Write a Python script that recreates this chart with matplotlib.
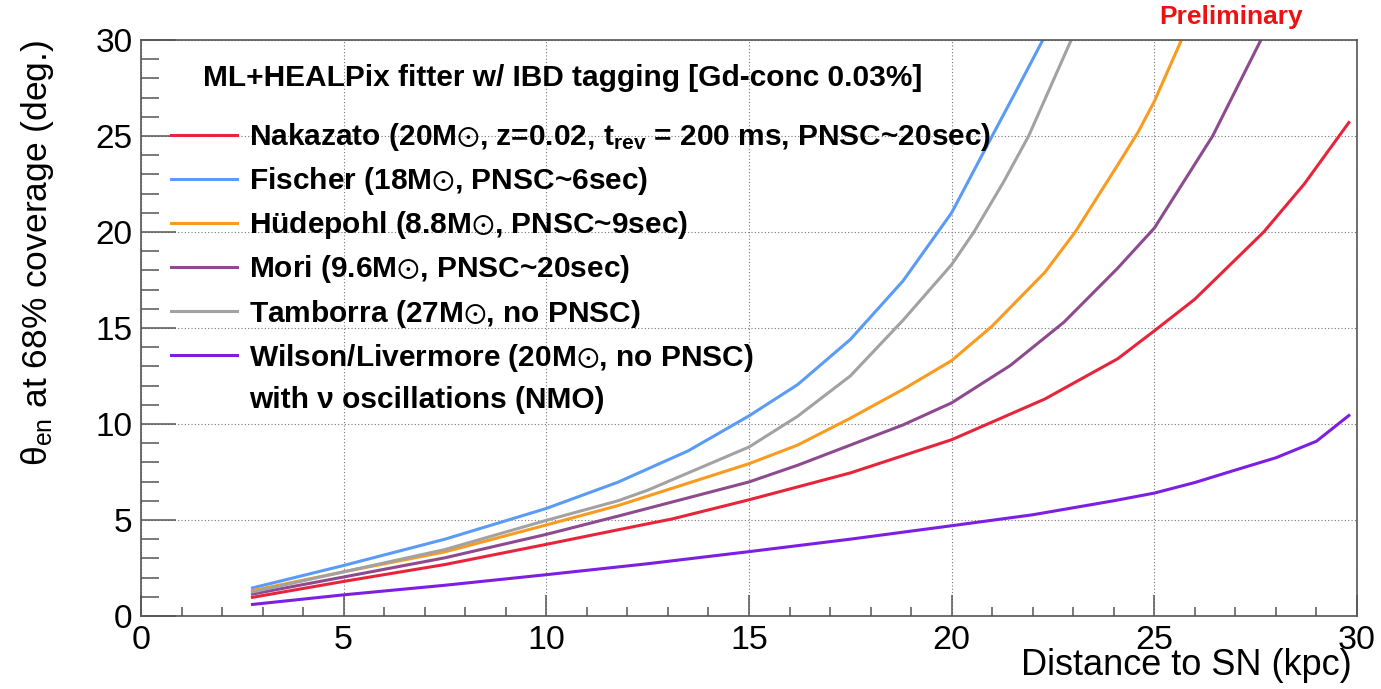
import matplotlib.pyplot as plt
from matplotlib.lines import Line2D

plt.rcParams['font.family'] = ['Liberation Sans', 'DejaVu Sans']
plt.rcParams['mathtext.default'] = 'regular'

# distance to SN (kpc) vs theta_en at 68% coverage (deg.)
nakazato_x = [2.75, 5, 7.5, 10, 12.5, 13.1, 15, 17.5, 20, 22.3, 24.1, 25, 26.0, 27.7, 28.7, 29.8]
nakazato_y = [0.97, 1.8, 2.68, 3.73, 4.8, 5.05, 6.05, 7.45, 9.18, 11.3, 13.4, 14.85, 16.5, 20.0, 22.5, 25.7]

fischer_x = [2.75, 5, 7.5, 10, 11.77, 13.5, 15, 16.2, 17.5, 18.8, 20, 21.0, 21.63, 22.25]
fischer_y = [1.46, 2.63, 4.0, 5.6, 6.97, 8.6, 10.42, 12.05, 14.4, 17.45, 21.0, 25.0, 27.5, 30.0]

hudepohl_x = [2.75, 5, 7.5, 10, 11.77, 15, 16.2, 17.5, 18.8, 20, 21.0, 22.3, 23.05, 24.1, 24.6, 25.0, 25.67]
hudepohl_y = [1.32, 2.3, 3.34, 4.74, 5.75, 7.93, 8.9, 10.3, 11.8, 13.3, 15.1, 17.9, 20.0, 23.5, 25.2, 26.8, 30.0]

mori_x = [2.75, 5, 7.5, 10, 11.77, 15, 16.2, 17.5, 18.8, 20, 21.45, 22.77, 24.09, 25, 26.44, 27.63]
mori_y = [1.14, 2.03, 3.03, 4.25, 5.2, 6.98, 7.85, 8.9, 9.95, 11.1, 13.05, 15.3, 18.1, 20.2, 25.0, 30.0]

tamborra_x = [2.75, 5, 7.5, 10, 11.77, 12.5, 15, 16.2, 17.5, 18.8, 20, 20.55, 21.28, 21.9, 22.95]
tamborra_y = [1.25, 2.3, 3.46, 4.98, 6.0, 6.55, 8.8, 10.4, 12.5, 15.4, 18.3, 20.0, 22.6, 25.0, 30.0]

wilson_x = [2.75, 5, 7.5, 10, 12.5, 15, 17.5, 20, 22, 24, 25, 26, 27, 28, 29, 29.8]
wilson_y = [0.6, 1.1, 1.6, 2.15, 2.72, 3.35, 4.0, 4.7, 5.27, 6.0, 6.4, 6.95, 7.6, 8.24, 9.1, 10.44]

labels = [
    r"Nakazato (20M$\odot$, z=0.02, $t_{rev}$ = 200 ms, PNSC~20sec)",
    r"Fischer (18M$\odot$, PNSC~6sec)",
    r"Hüdepohl (8.8M$\odot$, PNSC~9sec)",
    r"Mori (9.6M$\odot$, PNSC~20sec)",
    r"Tamborra (27M$\odot$, no PNSC)",
    r"Wilson/Livermore (20M$\odot$, no PNSC)",
]
colors = ['#e8243b', '#5a9bf6', '#f99b1e', '#8d4a8e', '#a2a2a2', '#7d1fe2']

fig = plt.figure(figsize=(13.81, 6.89), dpi=100)
ax = fig.add_axes([0.1021, 0.106, 0.8805, 0.836])

series = [(nakazato_x, nakazato_y), (fischer_x, fischer_y), (hudepohl_x, hudepohl_y),
          (mori_x, mori_y), (tamborra_x, tamborra_y), (wilson_x, wilson_y)]
handles = []
for (xs, ys), c, lab in zip(series, colors, labels):
    h, = ax.plot(xs, ys, color=c, lw=2.2, label=lab)
    handles.append(h)
handles.append(Line2D([], [], color='none', label="with ν oscillations (NMO)"))

ax.set_xlim(0, 30)
ax.set_ylim(0, 30)
ax.set_xticks(range(0, 31, 5))
ax.set_yticks(range(0, 31, 5))
ax.set_xticks(range(0, 31), minor=True)
ax.set_yticks(range(0, 31), minor=True)
ax.grid(True, which='major', color='#777777', linestyle=(0, (1, 2)), linewidth=0.8)

ax.tick_params(axis='both', which='both', direction='in', color='#555555', width=1.1,
               top=False, right=False)
ax.tick_params(axis='y', which='major', length=25, labelsize=24, pad=6)
ax.tick_params(axis='y', which='minor', length=13)
ax.tick_params(axis='x', which='major', length=15, labelsize=24.5, pad=6.5)
ax.tick_params(axis='x', which='minor', length=6.5)
for s in ax.spines.values():
    s.set_color('#555555')
    s.set_linewidth(1.2)

ax.set_xlabel("Distance to SN (kpc)", fontsize=26, loc='right')
ax.xaxis.set_label_coords(0.996, -0.056)
ax.set_ylabel(r"$\theta_{en}$ at 68% coverage (deg.)", fontsize=25.5, loc='top')
ax.yaxis.set_label_coords(-0.07, 1.0)

ax.text(0.051, 0.934, "ML+HEALPix fitter w/ IBD tagging [Gd-conc 0.03%]",
        transform=ax.transAxes, fontsize=21.5, fontweight='bold', va='center', ha='left')
ax.legend(handles=handles, loc='upper left', bbox_to_anchor=(0.0247, 0.859),
          frameon=False, borderpad=0, borderaxespad=0, handlelength=2.2,
          handletextpad=0.42, labelspacing=0.405,
          prop={'size': 21.5, 'weight': 'bold'})

fig.text(0.8914, 0.975, "Preliminary", color='#ee1111', fontsize=19,
         fontweight='bold', ha='center', va='center')

fig.savefig("out.png", dpi=100)
